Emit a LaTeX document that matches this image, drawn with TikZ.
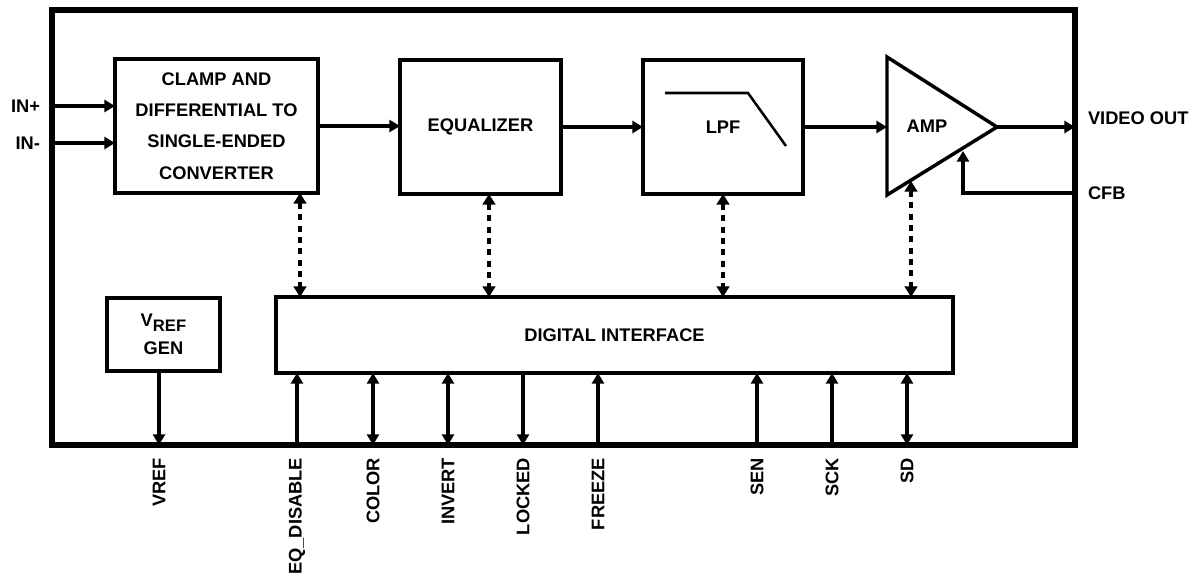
\documentclass[tikz,border=0pt]{standalone}
\usepackage{fontspec}
\setmainfont{Liberation Sans}
\usetikzlibrary{arrows.meta,calc}

\begin{document}
\begin{tikzpicture}[x=0.75pt,y=-0.75pt,
  every node/.style={font=\fontsize{13.7}{23.5}\selectfont\bfseries, inner sep=0pt, outer sep=0pt},
  blk/.style={draw, line width=2.6pt, align=center},
  sig/.style={line width=3pt, -{Triangle[length=8pt,width=9pt]}},
  bisig/.style={line width=3pt, {Triangle[length=8pt,width=9pt]}-{Triangle[length=8pt,width=9pt]}},
  ctl/.style={line width=3.2pt, dash pattern=on 4.5pt off 4pt, {Triangle[length=8pt,width=9.5pt]}-{Triangle[length=8pt,width=9.5pt]}},
  pinlbl/.style={rotate=90, anchor=east}]
\useasboundingbox (0,0) rectangle (1199,577);
% chip outline
\node[draw, line width=4.1pt, minimum width=767.25pt, minimum height=326.25pt] (chip) at (563.5,227.5) {};

% signal path blocks
\node[blk, minimum width=152.25pt, minimum height=100.5pt] (clamp) at (216.5,126) {CLAMP AND\\DIFFERENTIAL TO\\SINGLE-ENDED\\CONVERTER};
\node[blk, minimum width=120.75pt, minimum height=100.5pt] (eq) at (480.5,127) {EQUALIZER};
\node[blk, minimum width=120pt, minimum height=100.5pt] (lpf) at (723,127) {LPF};
\draw[line width=1.9pt] (665,93) -- (748,93) -- (786,146);
\draw[line width=2.6pt, line join=miter] (887,57) -- (997,127) -- (887,195) -- cycle;
\node (amp) at (927,126) {AMP};
\coordinate (amp-in) at (887,127);
\coordinate (amp-out) at (997,127);
\coordinate (amp-fb) at (963,151);
\coordinate (amp-ctl) at (911,181);

% lower blocks
\node[blk, minimum width=84.75pt, minimum height=54.75pt, font=\fontsize{13.7}{21}\selectfont\bfseries] (vref) at (163.5,334.5) {V\raisebox{-0.45ex}{\fontsize{12.5}{12.5}\selectfont REF}\\GEN};
\node[blk, minimum width=507.75pt, minimum height=57pt] (di) at (614.5,335) {DIGITAL INTERFACE};

% pin labels
\node[anchor=east] (inp) at (40,106) {IN+};
\node[anchor=east] (inm) at (40,143) {IN-};
\node[anchor=west] (vout) at (1088,118) {VIDEO OUT};
\node[anchor=west] (cfb) at (1088,193) {CFB};
\foreach \x/\name/\txt in {159/vrefpin/VREF, 297/eqd/EQ\_DISABLE, 373/color/COLOR, 448/invert/INVERT,
  523/locked/LOCKED, 598/freeze/FREEZE, 757/sen/SEN, 832/sck/SCK, 907/sd/SD}
  \node[pinlbl] (\name) at (\x,458) {\txt};

% signal path
\draw[sig] (chip.west |- inp) -- (clamp.west |- inp);
\draw[sig] (chip.west |- inm) -- (clamp.west |- inm);
\draw[sig] (clamp.east) -- (clamp.east -| eq.west);
\draw[sig] (eq.east) -- (lpf.west);
\draw[sig] (lpf.east) -- (amp-in);
\draw[sig] (amp-out) -- (chip.east |- amp-out);
\draw[sig] (chip.east |- cfb) -| (amp-fb);

% control links
\coordinate (ctl-clamp) at (300,297);
\coordinate (ctl-eq) at (489,297);
\coordinate (ctl-lpf) at (723,297);
\coordinate (ctl-amp) at (911,297);
\draw[ctl] (clamp.south -| ctl-clamp) -- (ctl-clamp);
\draw[ctl] (eq.south -| ctl-eq) -- (ctl-eq);
\draw[ctl] (lpf.south -| ctl-lpf) -- (ctl-lpf);
\draw[ctl] (amp-ctl) -- (ctl-amp);

% pins at the bottom
\draw[sig] (vref.south -| vrefpin) -- (chip.south -| vrefpin);
\foreach \p in {eqd, freeze, sen, sck}
  \draw[sig] (chip.south -| \p) -- (di.south -| \p);
\foreach \p in {color, invert, sd}
  \draw[bisig] (chip.south -| \p) -- (di.south -| \p);
\draw[sig] (di.south -| locked) -- (chip.south -| locked);
\end{tikzpicture}
\end{document}
